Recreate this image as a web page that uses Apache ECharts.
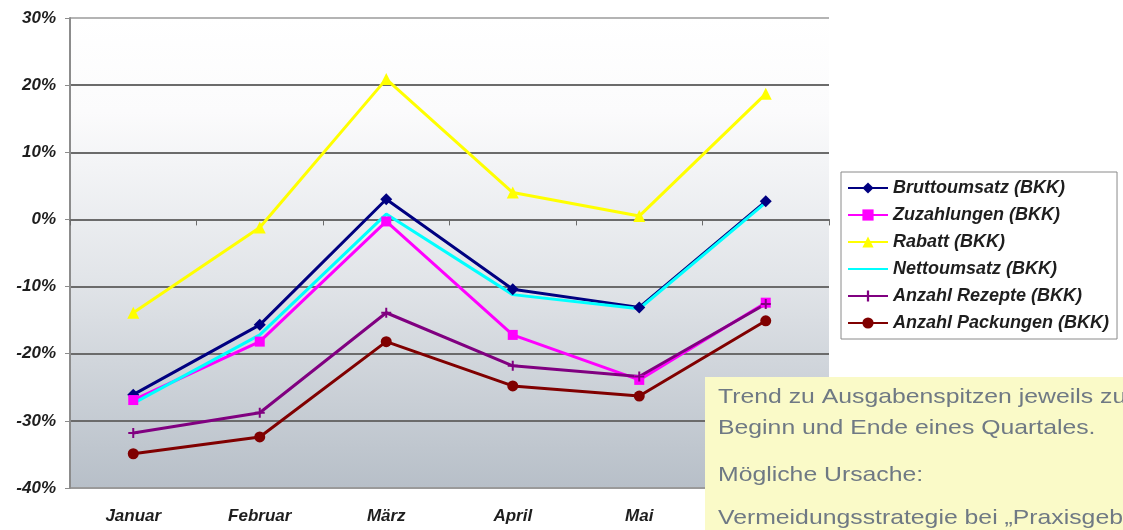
<!DOCTYPE html>
<html>
<head>
<meta charset="utf-8">
<title>BKK Entwicklung</title>
<script src="https://cdn.jsdelivr.net/npm/echarts@6/dist/echarts.min.js"></script>
<style>
  html, body { margin: 0; padding: 0; background: #fff; }
  #chart { width: 1123px; height: 530px; }
</style>
</head>
<body>
<div id="chart"></div>
<script>
// Monate
var months = ['Januar', 'Februar', 'März', 'April', 'Mai', 'Juni'];

// Veränderung in % je Monat
var brutto     = [-26.1, -15.7, 3.0, -10.4, -13.1, 2.7];
var zuzahlung  = [-26.9, -18.2, -0.3, -17.2, -23.9, -12.4];
var rabatt     = [-13.9, -1.2, 20.9, 4.0, 0.5, 18.7];
var netto      = [-27.4, -17.2, 0.8, -11.2, -13.3, 2.5];
var rezepte    = [-31.8, -28.8, -13.9, -21.8, -23.4, -12.6];
var packungen  = [-34.9, -32.4, -18.2, -24.8, -26.3, -15.1];

var yTicks = [-40, -30, -20, -10, 0, 10, 20, 30];

var noteLines = [
    'Trend zu Ausgabenspitzen jeweils zu',
    'Beginn und Ende eines Quartales.',
    'Mögliche Ursache:',
    'Vermeidungsstrategie bei „Praxisgebühr“'
];

var labelFont = {
    fontFamily: '"Liberation Sans", Arial, sans-serif',
    fontWeight: 'bold',
    fontStyle: 'italic',
    fontSize: 17,
    color: '#1e1e1e'
};

function line(name, data, color, symbol, size, show) {
    return {
        name: name,
        type: 'line',
        data: data,
        symbol: symbol,
        symbolSize: size,
        showSymbol: show,
        lineStyle: { color: color, width: 3 },
        itemStyle: { color: color },
        emphasis: { disabled: true }
    };
}

function note(text, y) {
    return {
        type: 'text', x: 13, y: y, z: 101, scaleX: 1.18,
        style: { text: text, font: '21px "Liberation Sans", Arial', fill: '#6f7984', verticalAlign: 'middle' }
    };
}

var chart = echarts.init(document.getElementById('chart'));

chart.setOption({
    animation: false,
    backgroundColor: '#ffffff',
    grid: {
        left: 70, right: 294, top: 18, bottom: 42,
        show: true,
        borderWidth: 0,
        backgroundColor: {
            type: 'linear', x: 0, y: 0, x2: 0, y2: 1,
            colorStops: [
                { offset: 0, color: '#ffffff' },
                { offset: 0.2, color: '#fbfbfc' },
                { offset: 0.55, color: '#e2e5e9' },
                { offset: 1, color: '#b7bfc8' }
            ]
        }
    },
    legend: {
        orient: 'vertical',
        left: 841,
        top: 172,
        padding: [7, 8, 7, 6],
        itemGap: 9,
        itemWidth: 40,
        itemHeight: 14,
        backgroundColor: '#ffffff',
        borderColor: '#8a8a8a',
        borderWidth: 1,
        textStyle: Object.assign({}, labelFont, { fontSize: 18 }),
        data: ['Bruttoumsatz (BKK)', 'Zuzahlungen (BKK)', 'Rabatt (BKK)',
               'Nettoumsatz (BKK)', 'Anzahl Rezepte (BKK)', 'Anzahl Packungen (BKK)']
    },
    xAxis: [{
        type: 'category',
        data: months,
        boundaryGap: true,
        axisLine: { show: false, onZero: false },
        axisTick: { show: false },
        axisLabel: Object.assign({ margin: 20 }, labelFont)
    }, {
        type: 'category',
        data: months,
        position: 'top',
        boundaryGap: true,
        axisLine: { show: true, onZero: true, lineStyle: { color: '#6b6b6b', width: 2 } },
        axisTick: { show: true, inside: true, length: 6, lineStyle: { color: '#6b6b6b', width: 1 } },
        axisLabel: { show: false }
    }],
    yAxis: {
        type: 'value',
        min: yTicks[0],
        max: yTicks[yTicks.length - 1],
        interval: 10,
        axisLine: { show: true, lineStyle: { color: '#8c8c8c', width: 2 } },
        axisTick: { show: true, length: 5, lineStyle: { color: '#8c8c8c' } },
        axisLabel: Object.assign({ margin: 14, formatter: '{value}%' }, labelFont),
        splitLine: {
            show: true,
            lineStyle: {
                color: ['#9a9a9a', '#6b6b6b', '#6b6b6b', '#6b6b6b', '#6b6b6b', '#6b6b6b', '#6b6b6b', '#b4b4b4'],
                width: 2
            }
        }
    },
    series: [
        line('Bruttoumsatz (BKK)', brutto, '#000080', 'diamond', 12, true),
        line('Zuzahlungen (BKK)', zuzahlung, '#ff00ff', 'rect', 10, true),
        line('Rabatt (BKK)', rabatt, '#ffff00', 'triangle', 12, true),
        // kein Marker: nur Linie, Symbol-Box 10x10 mit dünnem Balken in der Mitte
        line('Nettoumsatz (BKK)', netto, '#00ffff',
             'path://M0,0H0.05V0.05H0Z M0,4.6H10V5.4H0Z M9.95,9.95H10V10H9.95Z', 14, false),
        line('Anzahl Rezepte (BKK)', rezepte, '#800080',
             'path://M4,0H6V4H10V6H6V10H4V6H0V4H4Z', 10, true),
        line('Anzahl Packungen (BKK)', packungen, '#800000', 'circle', 11, true)
    ],
    graphic: [{
        type: 'group',
        left: 705,
        top: 377,
        z: 100,
        children: [{
            type: 'rect',
            z: 100,
            shape: { x: 0, y: 0, width: 430, height: 160 },
            style: { fill: '#fafac8' }
        },
        note(noteLines[0], 20),
        note(noteLines[1], 51),
        note(noteLines[2], 98),
        note(noteLines[3], 141)]
    }]
});
</script>
</body>
</html>
